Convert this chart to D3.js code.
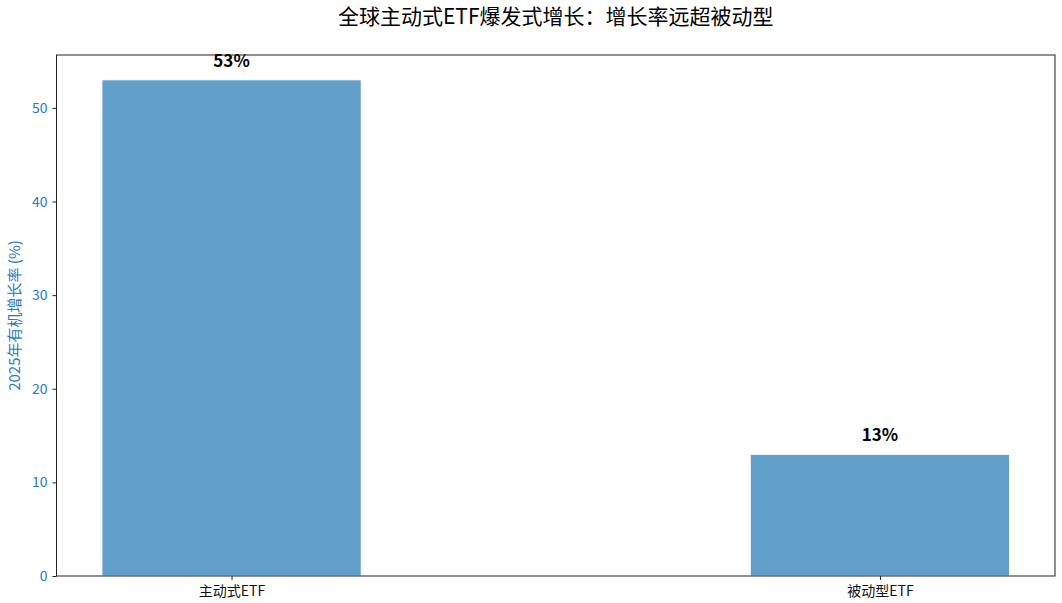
<!DOCTYPE html>
<html>
<head>
<meta charset="utf-8">
<script src="https://cdn.jsdelivr.net/npm/d3@7"></script>
<style>
  body { margin: 0; background: #fff; }
  text { font-family: "Noto Sans CJK SC", "Noto Sans", sans-serif; }
</style>
</head>
<body>
<script>
// chart data
const categories = ["主动式ETF", "被动型ETF"];
const growth = [53, 13];
const value_labels = ["53%", "13%"];
const y_ticks = [0, 10, 20, 30, 40, 50];

const title = "全球主动式ETF爆发式增长：增长率远超被动型";
const y_label = "2025年有机增长率 (%)";

let width = 1062, height = 603;
let margin = { top: 55, right: 7, bottom: 27, left: 56.5 };

let svg = d3.select("body")
  .append("svg")
    .attr("width", width)
    .attr("height", height);

// matplotlib-like positions: categories at 0,1 with bar width 0.4
let pos = d3.scaleLinear()
  .domain([-0.27, 1.27])
  .range([margin.left, width - margin.right]);
let bw = 0.4;

let y = d3.scaleLinear()
  .domain([0, d3.max(growth) * 1.05])
  .range([height - margin.bottom, margin.top]);

svg.selectAll("rect.bar")
  .data(growth)
  .join("rect")
    .attr("class", "bar")
    .attr("x", (d, i) => pos(i - bw / 2))
    .attr("y", d => y(d))
    .attr("width", (d, i) => pos(i + bw / 2) - pos(i - bw / 2))
    .attr("height", d => y(0) - y(d))
    .attr("fill", "#1f77b4")
    .attr("fill-opacity", 0.7)
    .attr("stroke", "#ffffff")
    .attr("stroke-width", 1);

svg.selectAll("text.val")
  .data(growth)
  .join("text")
    .attr("class", "val")
    .attr("x", (d, i) => pos(i))
    .attr("y", d => y(d) - 13)
    .attr("text-anchor", "middle")
    .attr("font-size", 17)
    .attr("font-weight", "bold")
    .attr("fill", "#000")
    .text((d, i) => value_labels[i]);

// y axis
let yAxis = svg.append("g")
  .attr("transform", `translate(${margin.left},0)`)
  .call(d3.axisLeft(y).tickValues(y_ticks).tickSize(4).tickPadding(5));
yAxis.select(".domain").remove();
yAxis.selectAll("text").attr("font-size", 14).attr("fill", "#2b7bba")
  .style("font-family", "'Noto Sans CJK SC', sans-serif");
yAxis.selectAll("line").attr("stroke", "#222");

// x axis
let xAxis = svg.append("g")
  .attr("transform", `translate(0,${height - margin.bottom})`)
  .call(d3.axisBottom(pos).tickValues([0, 1]).tickFormat(i => categories[i]).tickSize(4).tickPadding(6));
xAxis.select(".domain").remove();
xAxis.selectAll("text").attr("font-size", 14).attr("fill", "#111")
  .style("font-family", "'Noto Sans CJK SC', sans-serif");
xAxis.selectAll("line").attr("stroke", "#222");

// frame
svg.append("rect")
  .attr("x", margin.left)
  .attr("y", margin.top)
  .attr("width", width - margin.right - margin.left)
  .attr("height", height - margin.bottom - margin.top)
  .attr("fill", "none")
  .attr("stroke", "#222")
  .attr("stroke-width", 1);

svg.append("text")
  .attr("x", (margin.left + width - margin.right) / 2)
  .attr("y", 24)
  .attr("text-anchor", "middle")
  .attr("font-size", 21)
  .attr("fill", "#000")
  .text(title);

svg.append("text")
  .attr("transform", `translate(20,${(margin.top + height - margin.bottom) / 2}) rotate(-90)`)
  .attr("text-anchor", "middle")
  .attr("font-size", 15)
  .attr("fill", "#2b7bba")
  .text(y_label);
</script>
</body>
</html>
